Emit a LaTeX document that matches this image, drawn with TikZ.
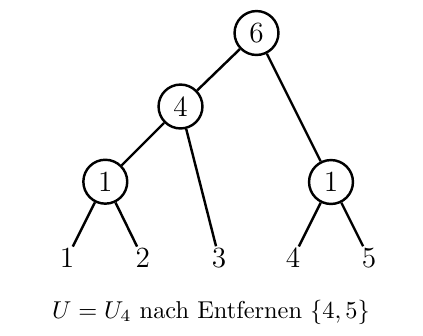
\documentclass[tikz,border=0pt]{standalone}
\begin{document}
\begin{tikzpicture}[x=0.41pt,y=-0.41pt,
  inner/.style={circle,draw,line width=1pt,minimum size=18pt,inner sep=0pt,font=\large},
  leaf/.style={inner sep=0.5pt,font=\large},
  edge/.style={line width=1pt}]
\useasboundingbox (0,0) rectangle (423,335);
\node[inner] (r) at (256.5,33) {6};
\node[inner] (a) at (180.5,106.5) {4};
\node[inner] (b) at (105.3,181.7) {1};
\node[inner] (c) at (331,182) {1};
\node[leaf] (l1) at (67,258) {1};
\node[leaf] (l2) at (142.7,258) {2};
\node[leaf] (l3) at (219,258) {3};
\node[leaf] (l4) at (293,258) {4};
\node[leaf] (l5) at (369,258) {5};
\draw[edge] (r) -- (a);
\draw[edge] (r) -- (c);
\draw[edge] (a) -- (b);
\draw[edge] (a) -- (l3);
\draw[edge] (b) -- (l1);
\draw[edge] (b) -- (l2);
\draw[edge] (c) -- (l4);
\draw[edge] (c) -- (l5);
\node (cap) at (211,312) {$U = U_4$ nach Entfernen $\{4,5\}$};
\end{tikzpicture}
\end{document}
